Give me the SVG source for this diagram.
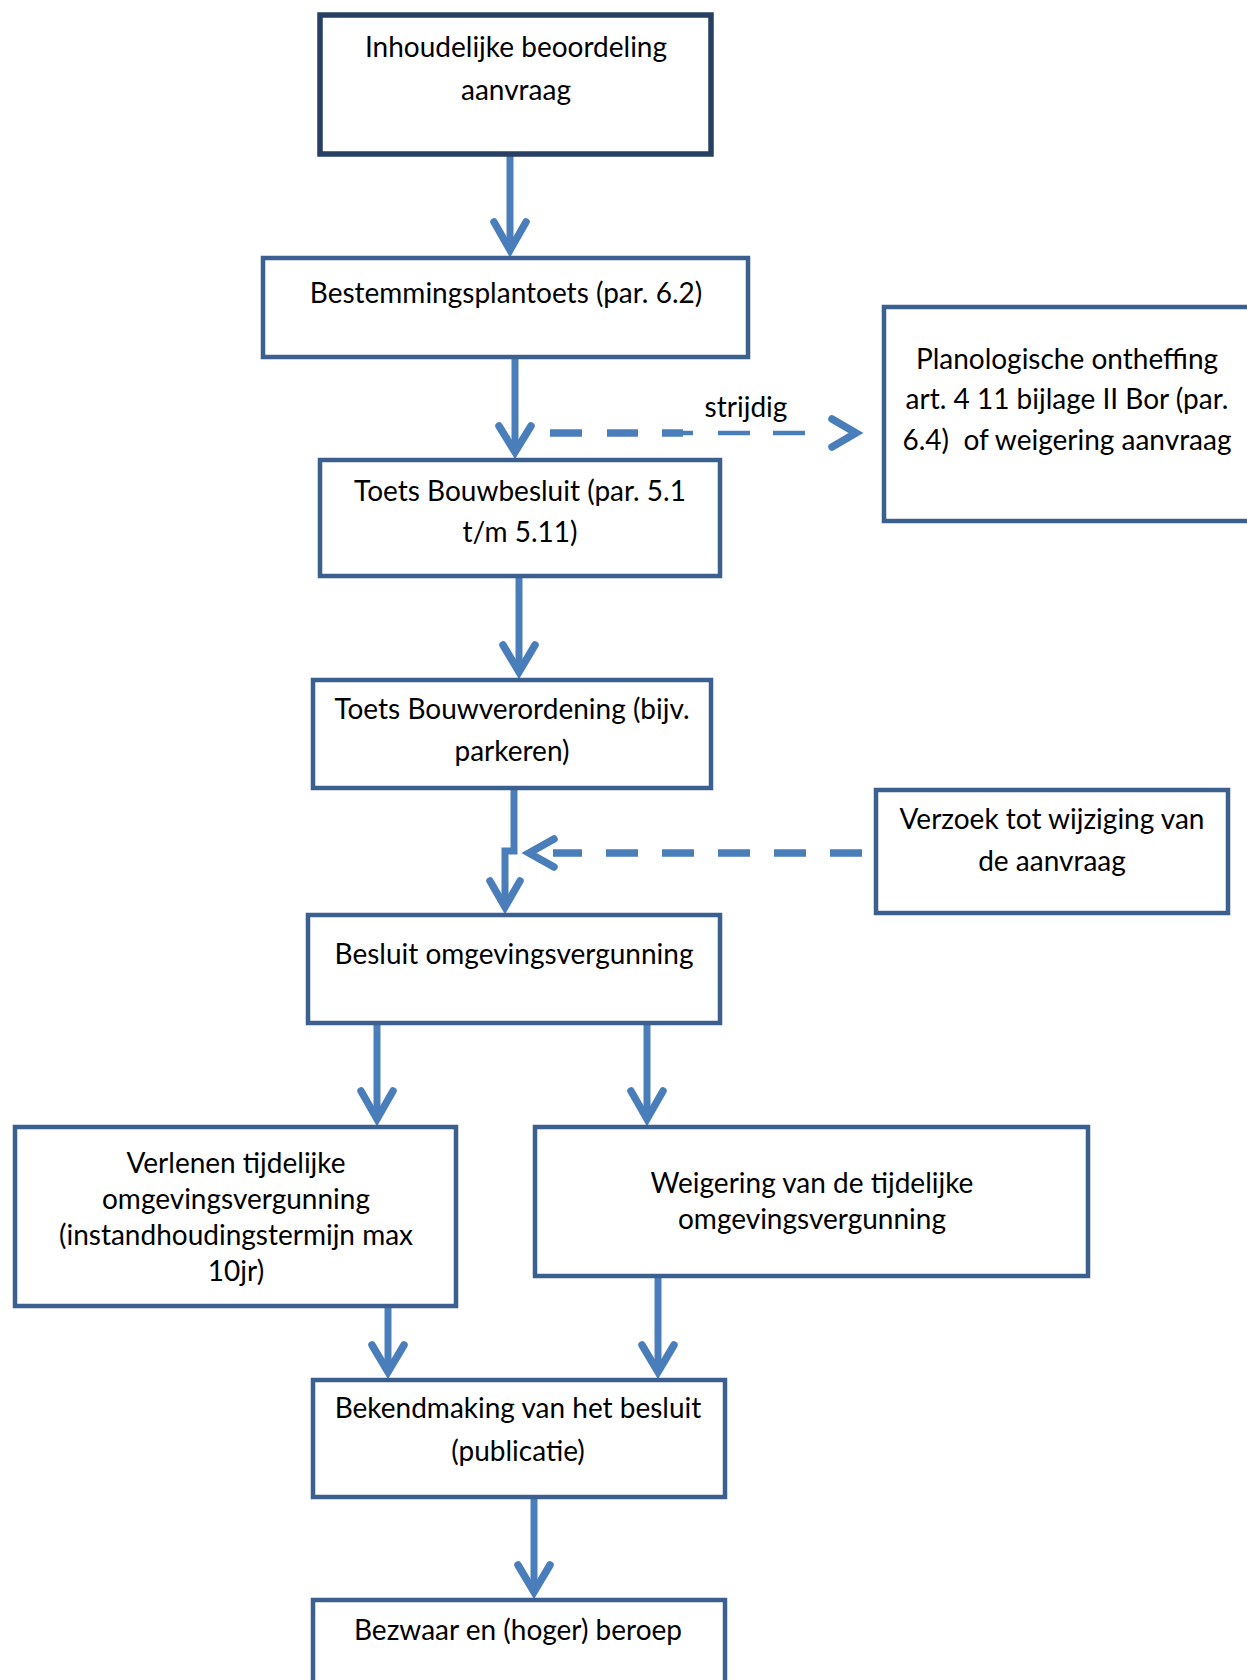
<svg xmlns="http://www.w3.org/2000/svg" width="1247" height="1680" viewBox="0 0 1247 1680">
<style>
  .box { fill: #ffffff; stroke: #3B5F8F; stroke-width: 4.5; }
  .box1 { fill: #ffffff; stroke: #263F62; stroke-width: 5.5; }
  .t { font-family: Lato, "Open Sans", sans-serif; font-size: 28px; fill: #000000; text-anchor: middle; }
  .ln { fill: none; stroke: #4A7EBB; stroke-width: 7; }
  .hd { fill: none; stroke: #4A7EBB; stroke-width: 7.5; stroke-linecap: round; stroke-linejoin: miter; stroke-miterlimit: 10; }
  .dk { fill: none; stroke: #4A7EBB; stroke-width: 7.5; }
  .dt { fill: none; stroke: #4A7EBB; stroke-width: 4.5; }
</style>
<rect width="1247" height="1680" fill="#ffffff"/>

<g id="connectors">
  <line class="ln" x1="510" y1="156" x2="510" y2="248"/>
  <polyline class="hd" points="494,222 510,250 526,222"/>

  <line class="ln" x1="515" y1="359" x2="515" y2="450"/>
  <polyline class="hd" points="499,426 515,452 531,426"/>

  <line class="ln" x1="519" y1="578" x2="519" y2="670"/>
  <polyline class="hd" points="503,645 519,672 535,645"/>

  <path class="ln" d="M514,790 V851 H505 V905" fill="none"/>
  <polyline class="hd" points="490,881 505,907 520,881"/>

  <line class="ln" x1="377" y1="1025" x2="377" y2="1117"/>
  <polyline class="hd" points="361,1091 377,1119 393,1091"/>

  <line class="ln" x1="647" y1="1025" x2="647" y2="1117"/>
  <polyline class="hd" points="631,1091 647,1119 663,1091"/>

  <line class="ln" x1="388" y1="1308" x2="388" y2="1370"/>
  <polyline class="hd" points="372,1345 388,1372 404,1345"/>

  <line class="ln" x1="658" y1="1278" x2="658" y2="1370"/>
  <polyline class="hd" points="642,1345 658,1372 674,1345"/>

  <line class="ln" x1="534" y1="1499" x2="534" y2="1590"/>
  <polyline class="hd" points="518,1565 534,1592 550,1565"/>

  <!-- strijdig dashed arrow -->
  <line class="dk" x1="550" y1="433" x2="582" y2="433"/>
  <line class="dk" x1="607" y1="433" x2="638" y2="433"/>
  <line class="dk" x1="662" y1="433" x2="683" y2="433"/>
  <line class="dt" x1="683" y1="433" x2="693" y2="433"/>
  <line class="dt" x1="718" y1="433" x2="750" y2="433"/>
  <line class="dt" x1="773" y1="433" x2="805" y2="433"/>
  <polyline class="hd" points="832,419 856,433 832,447"/>
  <text class="t" x="746" y="417">strijdig</text>

  <!-- wijziging dashed arrow -->
  <line class="dk" x1="862" y1="853" x2="553" y2="853" stroke-dasharray="32 24"/>
  <polyline class="hd" points="554,839 529,853 554,867"/>
</g>

<g id="n1">
  <rect class="box1" x="320" y="15" width="391" height="139"/>
  <text class="t" x="516" y="57">Inhoudelijke beoordeling</text>
  <text class="t" x="516" y="100">aanvraag</text>
</g>
<g id="n2">
  <rect class="box" x="263" y="258" width="485" height="99"/>
  <text class="t" x="506" y="303">Bestemmingsplantoets (par. 6.2)</text>
</g>
<g id="n3">
  <rect class="box" x="320" y="460" width="400" height="116"/>
  <text class="t" x="520" y="501">Toets Bouwbesluit (par. 5.1</text>
  <text class="t" x="520" y="542">t/m 5.11)</text>
</g>
<g id="n4">
  <rect class="box" x="884" y="307" width="380" height="214"/>
  <text class="t" x="1067" y="369">Planologische ontheffing</text>
  <text class="t" x="1067" y="409">art. 4 11 bijlage II Bor (par.</text>
  <text class="t" x="1067" y="450" xml:space="preserve">6.4)  of weigering aanvraag</text>
</g>
<g id="n5">
  <rect class="box" x="313" y="680" width="398" height="108"/>
  <text class="t" x="512" y="719">Toets Bouwverordening (bijv.</text>
  <text class="t" x="512" y="761">parkeren)</text>
</g>
<g id="n6">
  <rect class="box" x="876" y="790" width="352" height="123"/>
  <text class="t" x="1052" y="829">Verzoek tot wijziging van</text>
  <text class="t" x="1052" y="871">de aanvraag</text>
</g>
<g id="n7">
  <rect class="box" x="308" y="915" width="412" height="108"/>
  <text class="t" x="514" y="964">Besluit omgevingsvergunning</text>
</g>
<g id="n8">
  <rect class="box" x="15" y="1127" width="441" height="179"/>
  <text class="t" x="236" y="1173">Verlenen tijdelijke</text>
  <text class="t" x="236" y="1209">omgevingsvergunning</text>
  <text class="t" x="236" y="1245">(instandhoudingstermijn max</text>
  <text class="t" x="236" y="1281">10jr)</text>
</g>
<g id="n9">
  <rect class="box" x="535" y="1127" width="553" height="149"/>
  <text class="t" x="812" y="1193">Weigering van de tijdelijke</text>
  <text class="t" x="812" y="1229">omgevingsvergunning</text>
</g>
<g id="n10">
  <rect class="box" x="313" y="1380" width="412" height="117"/>
  <text class="t" x="518" y="1418">Bekendmaking van het besluit</text>
  <text class="t" x="518" y="1461">(publicatie)</text>
</g>
<g id="n11">
  <rect class="box" x="313" y="1600" width="412" height="100"/>
  <text class="t" x="518" y="1640">Bezwaar en (hoger) beroep</text>
</g>
</svg>
